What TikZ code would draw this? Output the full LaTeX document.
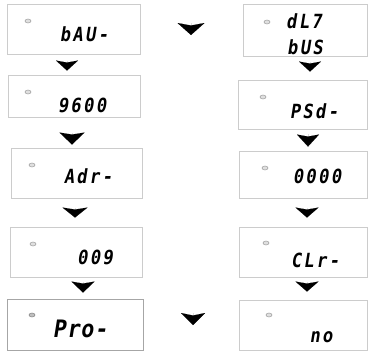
\documentclass[tikz,border=0pt]{standalone}
\usepackage{fontspec}
\usetikzlibrary{arrows.meta,shapes.geometric}
\newfontfamily\lcdfont[FakeSlant=0.16,FakeStretch=0.88,LetterSpace=12]{DejaVu Sans Mono}
\newfontfamily\lcdfontb[FakeSlant=0.16,FakeStretch=0.9,LetterSpace=4]{DejaVu Sans Mono}
\tikzset{
  lcdbox/.style={draw=gray!40,line width=0.9pt,inner sep=0pt},
  lcdtxt/.style={inner sep=0pt,font=\lcdfont\bfseries\fontsize{19.5}{19.5}\selectfont},
  icon/.style={ellipse,draw=gray!70,fill=gray!25,line width=0.6pt,minimum width=6pt,minimum height=4pt,inner sep=0pt},
  darr/.style={line width=0.01pt,-{Stealth[length=10pt,width=22pt,inset=2pt]}}
}
\begin{document}
\begin{tikzpicture}[x=1pt,y=-1pt]
\useasboundingbox (0,0) rectangle (369,351);
% boxes
\node[lcdbox,minimum width=133pt,minimum height=50pt] (L1) at (73.5,29) {};
\node[lcdbox,minimum width=132pt,minimum height=42pt] (L2) at (74,96) {};
\node[lcdbox,minimum width=131pt,minimum height=50pt] (L3) at (76.5,173) {};
\node[lcdbox,minimum width=132pt,minimum height=50pt] (L4) at (76,252) {};
\node[lcdbox,draw=gray!70,minimum width=136pt,minimum height=51pt] (L5) at (75,324.5) {};
\node[lcdbox,minimum width=124pt,minimum height=52pt] (R1) at (305.5,30) {};
\node[lcdbox,minimum width=129pt,minimum height=49pt] (R2) at (303,104.5) {};
\node[lcdbox,minimum width=128pt,minimum height=47pt] (R3) at (303.5,174.5) {};
\node[lcdbox,minimum width=128pt,minimum height=50pt] (R4) at (303.5,252) {};
\node[lcdbox,minimum width=128pt,minimum height=50pt] (R5) at (303.5,325) {};
% icons
\node[icon] (iL1) at (28,21) {};
\node[icon] (iL2) at (28,92) {};
\node[icon] (iL3) at (32,165) {};
\node[icon] (iL4) at (33,244) {};
\node[icon,draw=gray!90,fill=gray!50] (iL5) at (32,315) {};
\node[icon] (iR1) at (267,22) {};
\node[icon] (iR2) at (263,97) {};
\node[icon] (iR3) at (265,168) {};
\node[icon] (iR4) at (266,243) {};
\node[icon] (iR5) at (269,315) {};
% texts
\node[lcdtxt] (tL1) at (84,34.5) {bAU-};
\node[lcdtxt] (tL2) at (82,105) {9600};
\node[lcdtxt] (tL3) at (88,176) {Adr-};
\node[lcdtxt] (tL4) at (95,257.5) {009};
\node[lcdtxt,font=\lcdfontb\bfseries\fontsize{24}{24}\selectfont] (tL5) at (80,329) {Pro-};
\node[lcdtxt] (tR1a) at (304,21.5) {dL7};
\node[lcdtxt] (tR1b) at (305,47.5) {bUS};
\node[lcdtxt] (tR2) at (314,111.5) {PSd-};
\node[lcdtxt] (tR3) at (317,176.5) {0000};
\node[lcdtxt] (tR4) at (315,260) {CLr-};
\node[lcdtxt] (tR5) at (321,337) {no};
% column arrows
\draw[darr,shorten <=7pt,shorten >=4pt] ([xshift=-6.5pt]L1.south) -- ([xshift=-7pt]L2.north);
\draw[darr,shorten <=16pt,shorten >=3pt,-{Stealth[length=12pt,width=25pt,inset=2pt]}] ([xshift=-2pt]L2.south) -- ([xshift=-4.5pt]L3.north);
\draw[darr,shorten <=10pt,shorten >=9pt,-{Stealth[length=10pt,width=25pt,inset=2pt]}] ([xshift=-1.5pt]L3.south) -- ([xshift=-1pt]L4.north);
\draw[darr,shorten <=5pt,shorten >=6pt,-{Stealth[length=11pt,width=23pt,inset=2pt]}] ([xshift=7pt]L4.south) -- ([xshift=8pt]L5.north);
\draw[darr,shorten <=6pt,shorten >=8pt] ([xshift=4.5pt]R1.south) -- ([xshift=7pt]R2.north);
\draw[darr,shorten <=5pt,shorten >=4pt,-{Stealth[length=12pt,width=22pt,inset=2pt]}] ([xshift=5pt]R2.south) -- ([xshift=4.5pt]R3.north);
\draw[darr,shorten <=10pt,shorten >=9pt,-{Stealth[length=10pt,width=23pt,inset=2pt]}] ([xshift=3.5pt]R3.south) -- ([xshift=3.5pt]R4.north);
\draw[darr,shorten <=5pt,shorten >=8pt,-{Stealth[length=10pt,width=23pt,inset=2pt]}] ([xshift=3.5pt]R4.south) -- ([xshift=3.5pt]R5.north);
% middle arrows
\coordinate (m1s) at (191,23);
\coordinate (m1e) at (191,35);
\coordinate (m2s) at (193,313);
\coordinate (m2e) at (193,325);
\draw[darr,-{Stealth[length=12pt,width=27pt,inset=2.5pt]}] (m1s) -- (m1e);
\draw[darr,-{Stealth[length=12pt,width=24pt,inset=2.5pt]}] (m2s) -- (m2e);
\end{tikzpicture}
\end{document}
